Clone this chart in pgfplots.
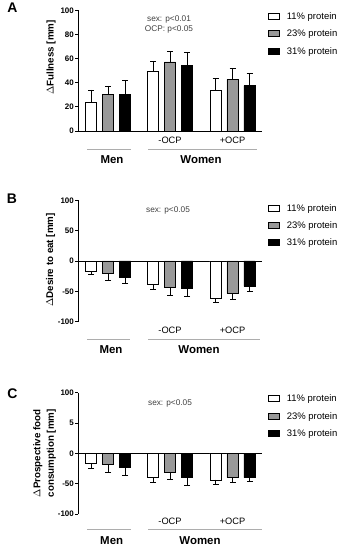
\documentclass[border=0pt]{standalone}
\usepackage{pgfplots}
\pgfplotsset{compat=1.18}
\usepackage{fontspec}
\setmainfont{Liberation Sans}
\definecolor{barg}{gray}{0.6}
\definecolor{lineg}{gray}{0.68}
\definecolor{txtg}{gray}{0.25}
\pgfplotsset{
 panel/.style={
  scale only axis, width=184bp, xmin=78, xmax=262,
  axis x line*=middle, axis y line*=left,
  hide obscured x ticks=false, hide obscured y ticks=false,
  xtick=\empty, tick align=outside, major tick length=3bp,
  axis line style={line width=0.9pt, black},
  ytick style={line width=0.9pt, black},
  yticklabel style={font=\bfseries\fontsize{8}{8}\selectfont, inner sep=1bp},
  ybar, bar width=11.3, bar shift=0pt,
  error bars/error bar style={line width=0.7pt, black},
  error bars/error mark options={rotate=90, mark size=3bp, line width=0.7pt, black},
  clip=false,
  legend style={draw=none, fill=none, font=\fontsize{9.5}{10}\selectfont, anchor=north west,
    row sep=7bp, inner sep=0pt, nodes={inner sep=1bp}},
  legend cell align=left,
  legend image code/.code={\draw[#1, line width=0.6pt] (0bp,-2.5bp) rectangle (11bp,3.5bp); \path (17bp,0bp);},
 }
}
\begin{document}
\begin{tikzpicture}[x=1bp,y=1bp]
\useasboundingbox (0,0) rectangle (348,550);
% ---------------- Panel A ----------------
\begin{axis}[panel, at={(78bp,419bp)}, anchor=south west, height=120.7bp,
  ymin=0, ymax=100, ytick={0,20,40,60,80,100}, yticklabels={0,20,40,60,80,100},
  legend style={at={(1.0326,0.99)}},
  error bars/y dir=plus, error bars/y explicit]
\addplot[draw=black, line width=0.7pt, fill=white] coordinates {(91,24)+-(0,10) (153,49.4)+-(0,8.3) (215.5,33.4)+-(0,10)};
\addplot[draw=black, line width=0.7pt, fill=barg] coordinates {(108,30.6)+-(0,6.7) (170,57.2)+-(0,8.5) (232.5,42.8)+-(0,9.1)};
\addplot[draw=black, line width=0.7pt, fill=black] coordinates {(125,30.6)+-(0,11.1) (187,54.4)+-(0,11) (249.5,37.5)+-(0,10.3)};
\legend{11\% protein, 23\% protein, 31\% protein}
\end{axis}
\node[font=\bfseries\fontsize{14}{14}\selectfont] at (12.5,542) {A};
\node[font=\bfseries\fontsize{9.8}{10}\selectfont, rotate=90] at (51,492.5) {$\Delta$Fullness [mm]};
\node[font=\fontsize{8.3}{9}\selectfont, text=txtg] at (169,531) {sex: p<0.01};
\node[font=\fontsize{8.3}{9}\selectfont, text=txtg] at (169,520.7) {OCP: p<0.05};
\node[font=\fontsize{9.3}{10}\selectfont] at (170,410) {-OCP};
\node[font=\fontsize{9.3}{10}\selectfont] at (232.5,410) {+OCP};
\draw[lineg, line width=0.9pt] (87,400.7) -- (131,400.7);
\draw[lineg, line width=0.9pt] (148,400.7) -- (257,400.7);
\node[font=\bfseries\fontsize{11.5}{12}\selectfont] at (112,390.7) {Men};
\node[font=\bfseries\fontsize{11.5}{12}\selectfont] at (201,390.7) {Women};
% ---------------- Panel B ----------------
\begin{axis}[panel, at={(78bp,228.3bp)}, anchor=south west, height=121.4bp,
  ymin=-100, ymax=100, ytick={-100,-50,0,50,100}, yticklabels={-100,-50,0,50,100},
  legend style={at={(1.0326,0.978)}},
  error bars/y dir=minus, error bars/y explicit]
\addplot[draw=black, line width=0.7pt, fill=white] coordinates {(91,-17.7)+-(0,4.3) (153,-38.8)+-(0,7.9) (215.5,-62.2)+-(0,6.1)};
\addplot[draw=black, line width=0.7pt, fill=barg] coordinates {(108,-20.5)+-(0,11.5) (170,-43.3)+-(0,13.4) (232.5,-53.9)+-(0,9.4)};
\addplot[draw=black, line width=0.7pt, fill=black] coordinates {(125,-26.7)+-(0,10.3) (187,-44.4)+-(0,14.5) (249.5,-41.7)+-(0,8.9)};
\legend{11\% protein, 23\% protein, 31\% protein}
\end{axis}
\node[font=\bfseries\fontsize{14}{14}\selectfont] at (12,351.7) {B};
\node[font=\bfseries\fontsize{9.8}{10}\selectfont, rotate=90] at (50.5,290) {$\Delta$Desire to eat [mm]};
\node[font=\fontsize{8.3}{9}\selectfont, text=txtg] at (168,340) {sex: p<0.05};
\node[font=\fontsize{9.3}{10}\selectfont] at (170,219.3) {-OCP};
\node[font=\fontsize{9.3}{10}\selectfont] at (232.5,219.3) {+OCP};
\draw[lineg, line width=0.9pt] (87,210.7) -- (130,210.7);
\draw[lineg, line width=0.9pt] (148,210.7) -- (260,210.7);
\node[font=\bfseries\fontsize{11.5}{12}\selectfont] at (111,200) {Men};
\node[font=\bfseries\fontsize{11.5}{12}\selectfont] at (199,200) {Women};
% ---------------- Panel C ----------------
\begin{axis}[panel, at={(78bp,36bp)}, anchor=south west, height=121.3bp,
  ymin=-100, ymax=100, ytick={-100,-50,0,50,100}, yticklabels={-100,-50,0,5,100},
  legend style={at={(1.0326,0.99)}},
  error bars/y dir=minus, error bars/y explicit]
\addplot[draw=black, line width=0.7pt, fill=white] coordinates {(91,-17.2)+-(0,7.8) (153,-40)+-(0,7.2) (215.5,-43.9)+-(0,6.7)};
\addplot[draw=black, line width=0.7pt, fill=barg] coordinates {(108,-17.8)+-(0,12.8) (170,-31.1)+-(0,12.2) (232.5,-40)+-(0,7.8)};
\addplot[draw=black, line width=0.7pt, fill=black] coordinates {(125,-22.8)+-(0,13.9) (187,-40)+-(0,12.8) (249.5,-40)+-(0,6.1)};
\legend{11\% protein, 23\% protein, 31\% protein}
\end{axis}
\node[font=\bfseries\fontsize{14}{14}\selectfont] at (12.3,156.7) {C};
\node[font=\bfseries\fontsize{9.8}{10}\selectfont, rotate=90, align=center] at (44.6,96.7) {$\Delta$Prospective food\\[3.5bp]consumption [mm]};
\node[font=\fontsize{8.3}{9}\selectfont, text=txtg] at (170,146.7) {sex: p<0.05};
\node[font=\fontsize{9.3}{10}\selectfont] at (170,28.3) {-OCP};
\node[font=\fontsize{9.3}{10}\selectfont] at (232.5,28.3) {+OCP};
\draw[lineg, line width=0.9pt] (87,20.7) -- (131,20.7);
\draw[lineg, line width=0.9pt] (148,20.7) -- (262,20.7);
\node[font=\bfseries\fontsize{11.5}{12}\selectfont] at (111.7,9.3) {Men};
\node[font=\bfseries\fontsize{11.5}{12}\selectfont] at (200,9.3) {Women};
\end{tikzpicture}
\end{document}
